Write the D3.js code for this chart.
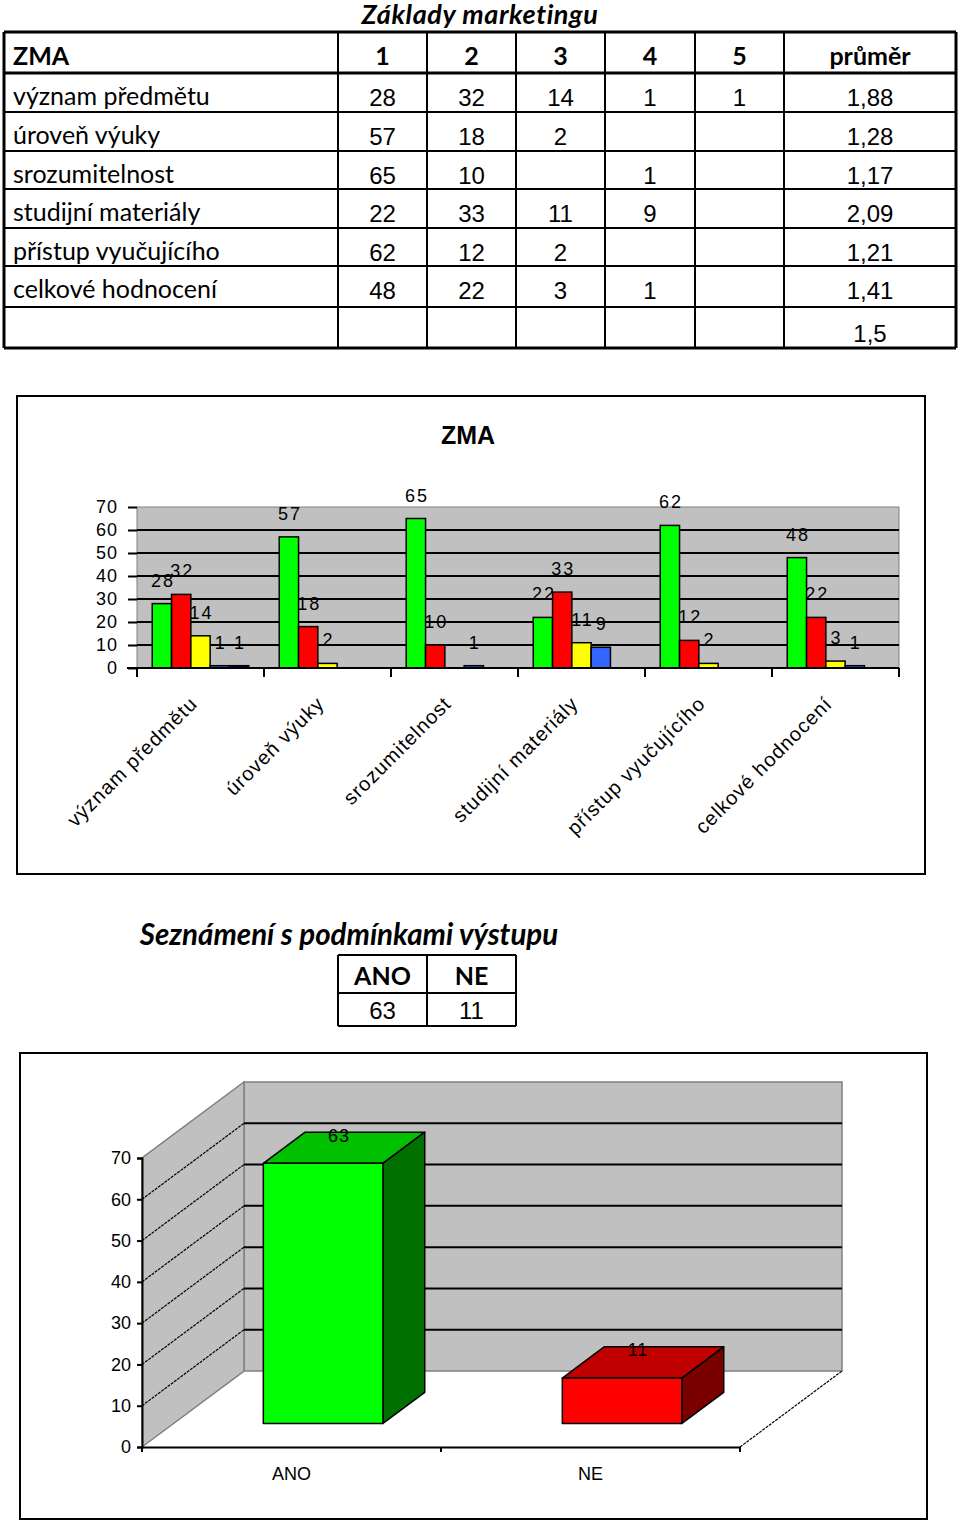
<!DOCTYPE html>
<html><head><meta charset="utf-8">
<script src="https://cdn.jsdelivr.net/npm/d3@7"></script>
<style>body{margin:0;background:#fff}svg{display:block}</style>
</head><body>
<svg id="c" width="960" height="1521"></svg>
<script>
// ---------- data ----------
const tableTitle = "Základy marketingu";
const tableHeader = ["ZMA", "1", "2", "3", "4", "5", "průměr"];
const categories = ["význam předmětu", "úroveň výuky", "srozumitelnost", "studijní materiály", "přístup vyučujícího", "celkové hodnocení"];
const grades = ["1", "2", "3", "4", "5"];
const grade1 = [28, 57, 65, 22, 62, 48];
const grade2 = [32, 18, 10, 33, 12, 22];
const grade3 = [14, 2, null, 11, 2, 3];
const grade4 = [1, null, 1, 9, null, 1];
const grade5 = [1, null, null, null, null, null];
const averages = ["1,88", "1,28", "1,17", "2,09", "1,21", "1,41"];
const overallAverage = "1,5";
const chart1Title = "ZMA";
const yTicks = [0, 10, 20, 30, 40, 50, 60, 70];
const seriesColors = ["#00ff00", "#ff0000", "#ffff00", "#3366ff", "#000080"];

const title2 = "Seznámení s podmínkami výstupu";
const answers = ["ANO", "NE"];
const answerCounts = [63, 11];
const answerFront = ["#00ff00", "#ff0000"];
const answerTop = ["#00c000", "#c00000"];
const answerSide = ["#007000", "#7a0000"];

// ---------- setup ----------
const svg = d3.select("#c");
const CAL = "Lato, 'Open Sans', sans-serif";
const ARIAL = "'Liberation Sans', Arial, sans-serif";
const series = [grade1, grade2, grade3, grade4, grade5];

// ---------- table 1 ----------
svg.append("text").attr("x", 480).attr("y", 24).attr("text-anchor", "middle")
  .attr("font-family", CAL).attr("font-weight", "bold").attr("font-style", "italic")
  .attr("font-size", 27).attr("letter-spacing", "0.6px").text(tableTitle);

const colX = [4, 338, 427, 516, 605, 695, 784, 956];
const rowY = [32, 73, 112, 151, 189, 228, 266, 307, 348];
const t1 = svg.append("g");
rowY.forEach((y, i) => {
  const w = (i === 0 || i === rowY.length - 1 || i === 1) ? 3 : 2;
  t1.append("line").attr("x1", colX[0]).attr("x2", colX[colX.length - 1]).attr("y1", y).attr("y2", y)
    .attr("stroke", "#000").attr("stroke-width", w);
});
colX.forEach((x, i) => {
  const w = (i === 0 || i === colX.length - 1) ? 3 : 2;
  t1.append("line").attr("x1", x).attr("x2", x).attr("y1", rowY[0]).attr("y2", rowY[rowY.length - 1])
    .attr("stroke", "#000").attr("stroke-width", w);
});
const colCenter = i => (colX[i] + colX[i + 1]) / 2;
tableHeader.forEach((h, i) => {
  t1.append("text").attr("x", i === 0 ? 13 : colCenter(i)).attr("y", 65)
    .attr("text-anchor", i === 0 ? "start" : "middle")
    .attr("font-family", CAL).attr("font-weight", "bold").attr("font-size", 25).text(h);
});
categories.forEach((c, r) => {
  const base = rowY[r + 1] + 33;
  t1.append("text").attr("x", 13).attr("y", base - 1).attr("font-family", CAL).attr("font-size", 25).text(c);
  series.forEach((s, k) => {
    if (s[r] != null) t1.append("text").attr("x", colCenter(k + 1)).attr("y", base).attr("text-anchor", "middle")
      .attr("font-family", ARIAL).attr("font-size", 24).text(s[r]);
  });
  t1.append("text").attr("x", colCenter(6)).attr("y", base).attr("text-anchor", "middle")
    .attr("font-family", ARIAL).attr("font-size", 24).text(averages[r]);
});
t1.append("text").attr("x", colCenter(6)).attr("y", 342).attr("text-anchor", "middle")
  .attr("font-family", ARIAL).attr("font-size", 24).text(overallAverage);

// ---------- chart 1 ----------
const c1 = svg.append("g");
c1.append("rect").attr("x", 17).attr("y", 396).attr("width", 908).attr("height", 478)
  .attr("fill", "#fff").attr("stroke", "#000").attr("stroke-width", 2);
c1.append("text").attr("x", 468).attr("y", 444).attr("text-anchor", "middle")
  .attr("font-family", ARIAL).attr("font-weight", "bold").attr("font-size", 25).text(chart1Title);

const x0 = d3.scaleBand().domain(categories).range([137, 899]);
const x1 = d3.scaleBand().domain(grades).range([0, x0.bandwidth()]).paddingOuter(0.79);
const y1 = d3.scaleLinear().domain([0, 70]).range([668, 507]);

c1.append("rect").attr("x", 137).attr("y", y1(70)).attr("width", 899 - 137).attr("height", y1(0) - y1(70))
  .attr("fill", "#c0c0c0").attr("stroke", "#808080").attr("stroke-width", 1);
c1.selectAll(".g1").data(yTicks.filter(t => t > 0 && t < 70)).enter().append("line")
  .attr("x1", 137).attr("x2", 899).attr("y1", d => y1(d)).attr("y2", d => y1(d))
  .attr("stroke", "#000").attr("stroke-width", 2);
const yAx = c1.append("g").attr("transform", "translate(137,0)")
  .call(d3.axisLeft(y1).tickValues(yTicks).tickSize(9).tickPadding(10));
yAx.select(".domain").remove();
yAx.selectAll("line").attr("stroke", "#000").attr("stroke-width", 2);
yAx.selectAll("text").attr("font-family", ARIAL).attr("font-size", 18).attr("fill", "#000").attr("letter-spacing", "1px");
const groups = c1.selectAll(".grp").data(categories).enter().append("g")
  .attr("transform", d => `translate(${x0(d)},0)`);
groups.each(function (cat, ci) {
  const g = d3.select(this);
  series.forEach((s, k) => {
    const v = s[ci];
    if (v == null) return;
    g.append("rect").attr("x", x1(grades[k])).attr("width", x1.bandwidth())
      .attr("y", y1(v)).attr("height", y1(0) - y1(v))
      .attr("fill", seriesColors[k]).attr("stroke", "#000").attr("stroke-width", 1.5);
    g.append("text").attr("x", x1(grades[k]) + x1.bandwidth() / 2 + 1).attr("y", y1(v) - 17)
      .attr("text-anchor", "middle").attr("font-family", ARIAL).attr("font-size", 18)
      .attr("letter-spacing", "2px").text(v);
  });
});
c1.append("line").attr("x1", 127).attr("x2", 899).attr("y1", y1(0)).attr("y2", y1(0)).attr("stroke", "#000").attr("stroke-width", 2);
const bounds = categories.map(c => x0(c)).concat([899]);
c1.selectAll(".xt").data(bounds).enter().append("line")
  .attr("x1", d => d).attr("x2", d => d).attr("y1", y1(0)).attr("y2", y1(0) + 9)
  .attr("stroke", "#000").attr("stroke-width", 2);
c1.selectAll(".xl").data(categories).enter().append("text")
  .attr("transform", d => `translate(${x0(d) + x0.bandwidth() / 2 - 2},705) rotate(-45)`)
  .attr("text-anchor", "end").attr("font-family", ARIAL).attr("font-size", 20)
  .attr("letter-spacing", "1px").text(d => d);

// ---------- table 2 ----------
svg.append("text").attr("x", 349).attr("y", 945).attr("text-anchor", "middle")
  .attr("font-family", CAL).attr("font-weight", "bold").attr("font-style", "italic")
  .attr("font-size", 29.5).text(title2);
const t2x = [338, 427, 516], t2y = [955, 993, 1026];
t2y.forEach(y => svg.append("line").attr("x1", t2x[0]).attr("x2", t2x[2]).attr("y1", y).attr("y2", y).attr("stroke", "#000").attr("stroke-width", 2));
t2x.forEach(x => svg.append("line").attr("x1", x).attr("x2", x).attr("y1", t2y[0]).attr("y2", t2y[2]).attr("stroke", "#000").attr("stroke-width", 2));
answers.forEach((a, i) => {
  const cx = (t2x[i] + t2x[i + 1]) / 2;
  svg.append("text").attr("x", cx).attr("y", 985).attr("text-anchor", "middle")
    .attr("font-family", CAL).attr("font-weight", "bold").attr("font-size", 25).text(a);
  svg.append("text").attr("x", cx).attr("y", 1019).attr("text-anchor", "middle")
    .attr("font-family", ARIAL).attr("font-size", 24).text(answerCounts[i]);
});

// ---------- chart 2 (3D columns) ----------
const c2 = svg.append("g");
c2.append("rect").attr("x", 20).attr("y", 1053).attr("width", 907).attr("height", 466)
  .attr("fill", "#fff").attr("stroke", "#000").attr("stroke-width", 2);
const xb = d3.scaleBand().domain(answers).range([142, 740]);
const yb = d3.scaleLinear().domain([0, 70]).range([1447, 1158]);
const DX = 102, DY = -76;
const P = (x, v, z) => [x + z * DX, yb(v) + z * DY];
const poly = pts => pts.map(p => p.join(",")).join(" ");
const xL = 142, xR = 740;
c2.append("polygon").attr("points", poly([P(xL, 0, 0), P(xL, 0, 1), P(xR, 0, 1), P(xR, 0, 0)])).attr("fill", "#fff");
c2.append("polygon").attr("points", poly([P(xL, 0, 1), P(xR, 0, 1), P(xR, 70, 1), P(xL, 70, 1)]))
  .attr("fill", "#c0c0c0").attr("stroke", "#808080").attr("stroke-width", 1.5);
c2.append("polygon").attr("points", poly([P(xL, 0, 0), P(xL, 0, 1), P(xL, 70, 1), P(xL, 70, 0)]))
  .attr("fill", "#c0c0c0").attr("stroke", "#808080").attr("stroke-width", 1.5);
const inner = yTicks.filter(t => t > 0 && t < 70);
inner.forEach(t => {
  const a = P(xL, t, 1), b = P(xR, t, 1), c = P(xL, t, 0);
  c2.append("line").attr("x1", a[0]).attr("y1", a[1]).attr("x2", b[0]).attr("y2", b[1]).attr("stroke", "#000").attr("stroke-width", 2);
  c2.append("line").attr("x1", c[0]).attr("y1", c[1]).attr("x2", a[0]).attr("y2", a[1]).attr("stroke", "#000").attr("stroke-width", 1.2).attr("stroke-dasharray", "3,1");
});
{
  const a = P(xR, 0, 0), b = P(xR, 0, 1);
  c2.append("line").attr("x1", a[0]).attr("y1", a[1]).attr("x2", b[0]).attr("y2", b[1]).attr("stroke", "#000").attr("stroke-width", 1.2).attr("stroke-dasharray", "3,1");
}
const z1 = 0.31, z2 = 0.72;
answers.forEach((a, i) => {
  const v = answerCounts[i];
  const bx0 = xb(a) + xb.bandwidth() * 0.3, bx1 = bx0 + xb.bandwidth() * 0.4;
  c2.append("polygon").attr("points", poly([P(bx0, v, z1), P(bx1, v, z1), P(bx1, v, z2), P(bx0, v, z2)]))
    .attr("fill", answerTop[i]).attr("stroke", "#000").attr("stroke-width", 1.5).attr("stroke-linejoin", "round");
  c2.append("polygon").attr("points", poly([P(bx1, 0, z1), P(bx1, v, z1), P(bx1, v, z2), P(bx1, 0, z2)]))
    .attr("fill", answerSide[i]).attr("stroke", "#000").attr("stroke-width", 1.5).attr("stroke-linejoin", "round");
  c2.append("polygon").attr("points", poly([P(bx0, 0, z1), P(bx1, 0, z1), P(bx1, v, z1), P(bx0, v, z1)]))
    .attr("fill", answerFront[i]).attr("stroke", "#000").attr("stroke-width", 1.5).attr("stroke-linejoin", "round");
  const tc = P((bx0 + bx1) / 2, v, (z1 + z2) / 2);
  c2.append("text").attr("x", tc[0] - 5).attr("y", tc[1] - 6).attr("text-anchor", "middle")
    .attr("font-family", ARIAL).attr("font-size", 18).attr("letter-spacing", "1px").text(v);
});
const yAx2 = c2.append("g").attr("transform", `translate(${xL},0)`)
  .call(d3.axisLeft(yb).tickValues(yTicks).tickSize(5).tickPadding(6));
yAx2.select(".domain").attr("stroke", "#000").attr("stroke-width", 2);
yAx2.selectAll("line").attr("stroke", "#000").attr("stroke-width", 2);
yAx2.selectAll("text").attr("font-family", ARIAL).attr("font-size", 18).attr("fill", "#000");
const xAx2 = c2.append("g").attr("transform", `translate(0,${yb(0)})`)
  .call(d3.axisBottom(xb).tickSize(0).tickPadding(20));
xAx2.select(".domain").attr("stroke", "#000").attr("stroke-width", 2);
xAx2.selectAll("text").attr("font-family", ARIAL).attr("font-size", 18).attr("fill", "#000");
c2.selectAll(".xt2").data([xL, xb("NE"), xR]).enter().append("line")
  .attr("x1", d => d).attr("x2", d => d).attr("y1", yb(0)).attr("y2", yb(0) + 5)
  .attr("stroke", "#000").attr("stroke-width", 2);
</script>
</body></html>
